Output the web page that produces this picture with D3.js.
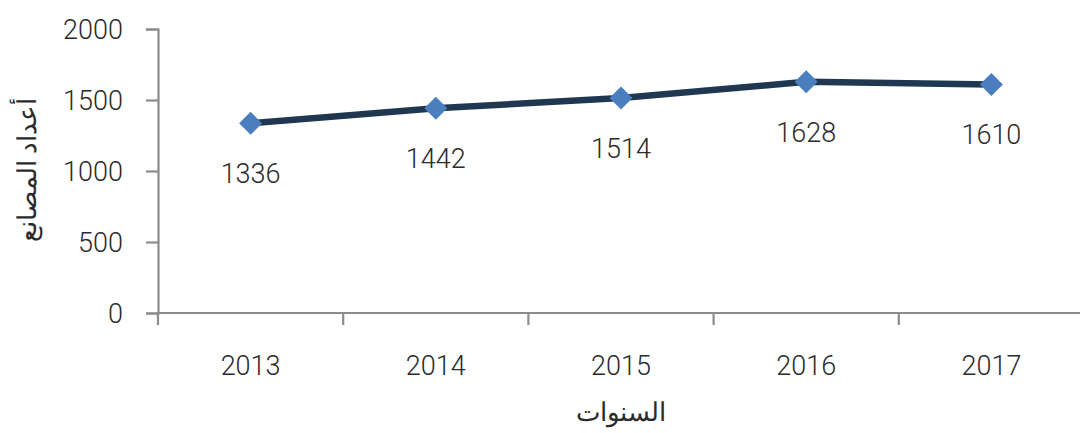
<!DOCTYPE html>
<html><head><meta charset="utf-8">
<script src="https://cdn.jsdelivr.net/npm/d3@7/dist/d3.min.js"></script>
<style>body{margin:0;background:#fff;}svg{display:block;}text{font-family:Roboto,"Noto Sans",sans-serif;fill:#2b2b2b;font-weight:300;}</style>
</head><body><svg id="c" width="1080" height="433"></svg>
<script>
const years = ["2013","2014","2015","2016","2017"];
const factories = [1336,1442,1514,1628,1610];
const yTicks = [0,500,1000,1500,2000];
const yTitle = "أعداد المصانع";
const xTitle = "السنوات";

const svg = d3.select("#c");
const x = d3.scaleBand().domain(years).range([158,1084]);
const y = d3.scaleLinear().domain([0,2000]).range([313,29]);
const axisColor = "#8c8c8c";

// y axis
const ya = svg.append("g").attr("transform","translate(158,0)")
  .call(d3.axisLeft(y).tickValues(yTicks).tickSize(12).tickPadding(23).tickFormat(d3.format("d")));
ya.select(".domain").attr("stroke",axisColor).attr("stroke-width",2.2);
ya.selectAll(".tick line").attr("stroke",axisColor).attr("stroke-width",2.2);
ya.selectAll(".tick text").attr("font-size",27).attr("fill","#2b2b2b").attr("font-family","Roboto,sans-serif").attr("dy","0.36em");

// x axis
const xa = svg.append("g").attr("transform","translate(0,313)")
  .call(d3.axisBottom(x).tickSize(0).tickPadding(0));
xa.select(".domain").attr("stroke",axisColor).attr("stroke-width",2.2).attr("d","M158,0H1080");
xa.selectAll(".tick text").attr("font-size",27).attr("fill","#2b2b2b").attr("font-family","Roboto,sans-serif").attr("y",62).attr("dy",0);
// category boundary ticks
const bounds = years.map(d=>x(d)).concat([x(years[years.length-1])+x.bandwidth()]);
xa.selectAll(".bt").data(bounds).enter().append("line")
  .attr("x1",d=>d).attr("x2",d=>d).attr("y1",0).attr("y2",12)
  .attr("stroke",axisColor).attr("stroke-width",2.2);

const cx = d=>x(d)+x.bandwidth()/2;
// line
svg.append("path").datum(factories)
  .attr("d", d3.line().x((d,i)=>cx(years[i])).y(d=>y(d)))
  .attr("fill","none").attr("stroke","#1f3750").attr("stroke-width",6.5).attr("stroke-linejoin","round");
// markers
svg.selectAll(".m").data(factories).enter().append("path")
  .attr("transform",(d,i)=>`translate(${cx(years[i])},${y(d)})`)
  .attr("d","M0,-11.5L11.5,0L0,11.5L-11.5,0Z").attr("fill","#4a7ebf");
// labels
svg.selectAll(".lb").data(factories).enter().append("text")
  .attr("x",(d,i)=>cx(years[i])).attr("y",d=>y(d)+60)
  .attr("text-anchor","middle").attr("font-size",27).text(d=>d);

// titles
svg.append("text").attr("transform","translate(36,170) rotate(-90)")
  .attr("text-anchor","middle").attr("font-size",26).attr("font-family","'Noto Sans',sans-serif").text(yTitle);
svg.append("text").attr("x",621).attr("y",421)
  .attr("text-anchor","middle").attr("font-size",26).attr("font-family","'Noto Sans',sans-serif").text(xTitle);
</script></body></html>
